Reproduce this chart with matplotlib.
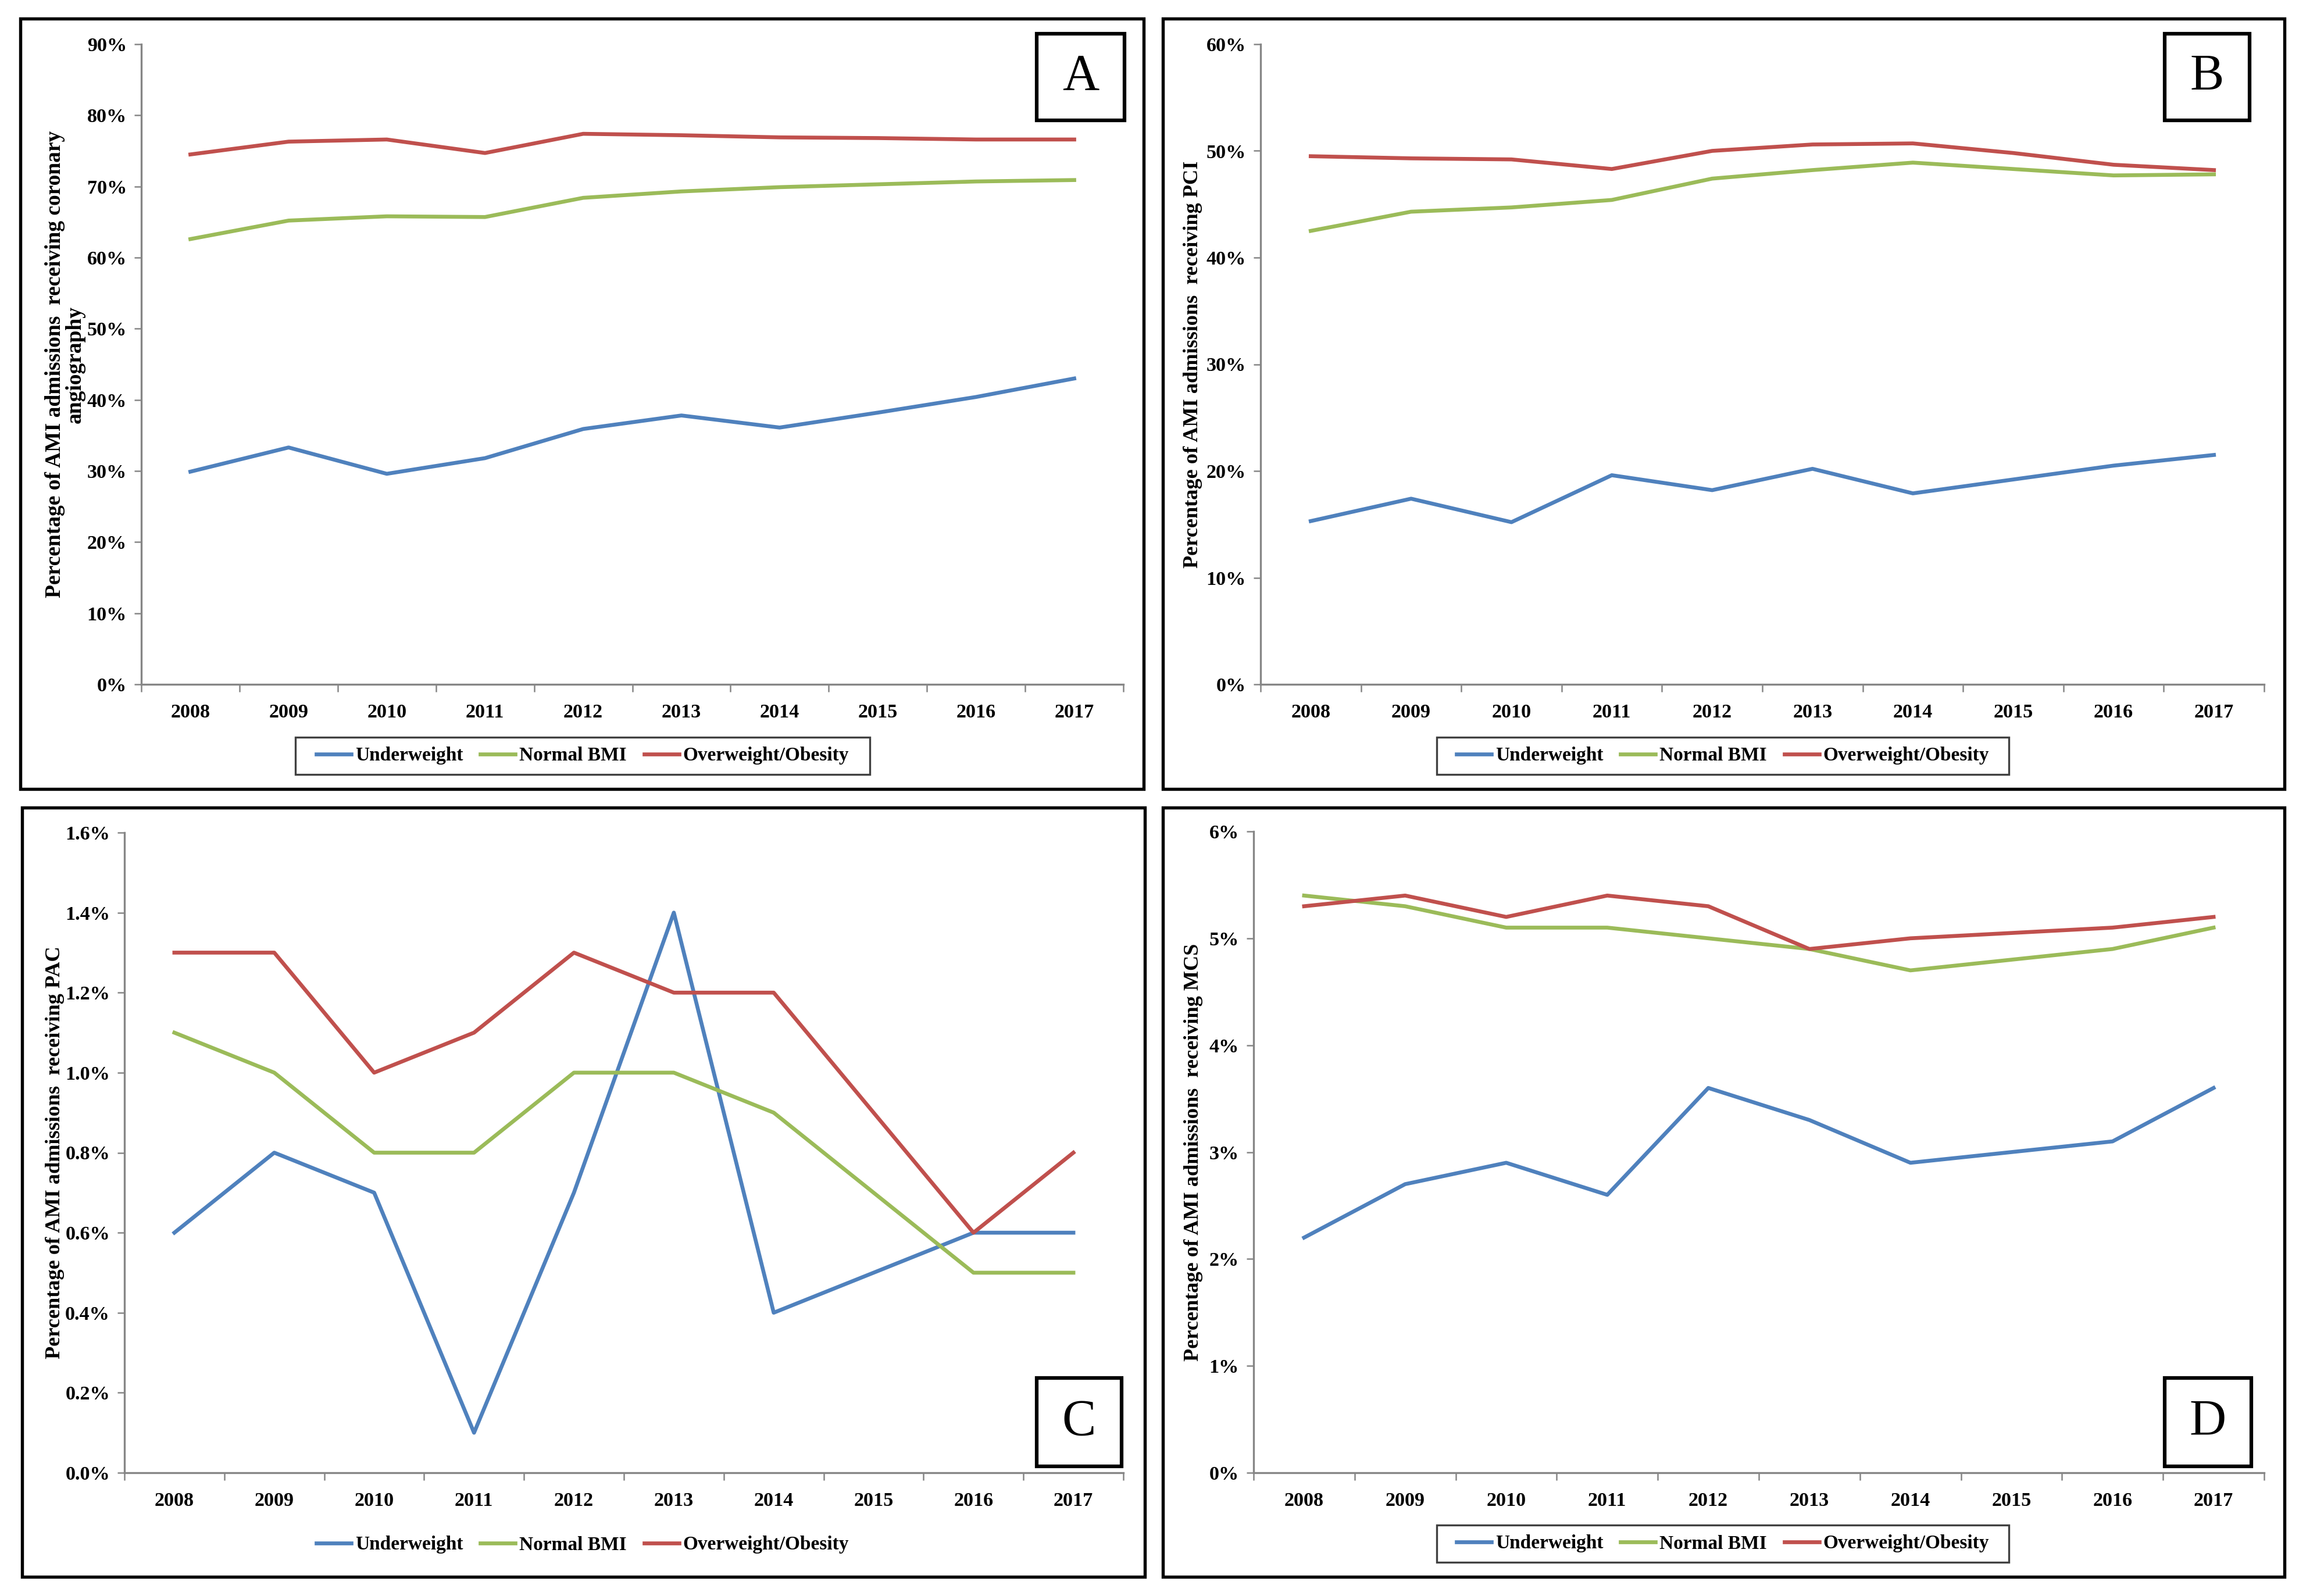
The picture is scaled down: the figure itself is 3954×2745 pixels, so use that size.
import matplotlib
matplotlib.use("Agg")
from matplotlib import pyplot as plt
from matplotlib.patches import Rectangle
from matplotlib.lines import Line2D
from matplotlib.ticker import FuncFormatter, MultipleLocator, FixedLocator

years = ["2008", "2009", "2010", "2011", "2012", "2013", "2014", "2015", "2016", "2017"]
groups = ["Underweight", "Normal BMI", "Overweight/Obesity"]
colors = ["#4F81BD", "#9BBB59", "#C0504D"]

# A - coronary angiography (%)
cag_under = [29.9, 33.3, 29.6, 31.8, 35.9, 37.8, 36.1, 38.2, 40.4, 43.0]
cag_normal = [62.6, 65.2, 65.8, 65.7, 68.4, 69.3, 69.9, 70.3, 70.7, 70.9]
cag_over = [74.5, 76.3, 76.6, 74.7, 77.4, 77.2, 76.9, 76.8, 76.6, 76.6]

# B - PCI (%)
pci_under = [15.3, 17.4, 15.2, 19.6, 18.2, 20.2, 17.9, 19.2, 20.5, 21.5]
pci_normal = [42.5, 44.3, 44.7, 45.4, 47.4, 48.2, 48.9, 48.3, 47.7, 47.8]
pci_over = [49.5, 49.3, 49.2, 48.3, 50.0, 50.6, 50.7, 49.8, 48.7, 48.2]

# C - PAC (%)
pac_under = [0.6, 0.8, 0.7, 0.1, 0.7, 1.4, 0.4, 0.5, 0.6, 0.6]
pac_normal = [1.1, 1.0, 0.8, 0.8, 1.0, 1.0, 0.9, 0.7, 0.5, 0.5]
pac_over = [1.3, 1.3, 1.0, 1.1, 1.3, 1.2, 1.2, 0.9, 0.6, 0.8]

# D - MCS (%)
mcs_under = [2.2, 2.7, 2.9, 2.6, 3.6, 3.3, 2.9, 3.0, 3.1, 3.6]
mcs_normal = [5.4, 5.3, 5.1, 5.1, 5.0, 4.9, 4.7, 4.8, 4.9, 5.1]
mcs_over = [5.3, 5.4, 5.2, 5.4, 5.3, 4.9, 5.0, 5.05, 5.1, 5.2]

W, H = 3954, 2745
FONT = "Liberation Serif"
fig = plt.figure(figsize=(W / 300, H / 300), dpi=300)


def frac(x0, y0, x1, y1):
    # pixel box (top-left origin) -> figure fraction [left, bottom, width, height]
    return [x0 / W, 1 - y1 / H, (x1 - x0) / W, (y1 - y0) / H]


def add_box(px, lw, color):
    b = frac(*px)
    fig.add_artist(Rectangle(b[:2], b[2], b[3], transform=fig.transFigure,
                             fill=False, edgecolor=color, lw=lw))
    return b


panels = [
    dict(letter="A", data=[cag_under, cag_normal, cag_over], ymax=90, step=10, fmt="%d%%",
         ylabel="Percentage of AMI admissions  receiving coronary\nangiography", labx=-0.057,
         labsize=9,
         ax=(243, 76, 1932, 1177), border=(35, 32, 1967, 1357), lbox=(1783, 58, 1934, 207),
         leg=(508, 1268, 1496, 1332), legframe=True),
    dict(letter="B", data=[pci_under, pci_normal, pci_over], ymax=60, step=10, fmt="%d%%",
         ylabel="Percentage of AMI admissions  receiving PCI", labx=-0.058, labsize=8.7,
         ax=(2168, 76, 3894, 1177), border=(2000, 32, 3929, 1357), lbox=(3723, 58, 3869, 207),
         leg=(2471, 1268, 3455, 1332), legframe=True),
    dict(letter="C", data=[pac_under, pac_normal, pac_over], ymax=1.6, step=0.2, fmt="%.1f%%",
         ylabel="Percentage of AMI admissions  receiving PAC", labx=-0.060, labsize=8.7,
         ax=(214, 1432, 1932, 2533), border=(38, 1389, 1969, 2712), lbox=(1783, 2370, 1929, 2522),
         leg=(508, 2625, 1496, 2689), legframe=False),
    dict(letter="D", data=[mcs_under, mcs_normal, mcs_over], ymax=6, step=1, fmt="%d%%",
         ylabel="Percentage of AMI admissions  receiving MCS", labx=-0.050, labsize=8.7,
         ax=(2156, 1430, 3894, 2533), border=(2000, 1389, 3929, 2712), lbox=(3723, 2370, 3872, 2522),
         leg=(2471, 2623, 3455, 2687), legframe=True),
]

x = list(range(len(years)))
tick_font = dict(family=FONT, weight="bold", size=8.2)

for p in panels:
    # outer panel frame
    add_box(p["border"], 1.3, "black")

    ax = fig.add_axes(frac(*p["ax"]))
    for vals, name, c in zip(p["data"], groups, colors):
        ax.plot(x, vals, color=c, lw=1.6, label=name)

    ax.set_xlim(-0.5, len(years) - 0.5)
    ax.set_ylim(0, p["ymax"])
    ax.yaxis.set_major_locator(MultipleLocator(p["step"]))
    fmt = p["fmt"]
    ax.yaxis.set_major_formatter(FuncFormatter(lambda v, pos, f=fmt: f % v))
    ax.set_xticks(x)
    ax.set_xticklabels(years)
    ax.xaxis.set_minor_locator(FixedLocator([i - 0.5 for i in range(len(years) + 1)]))
    ax.tick_params(axis="x", which="major", length=0, pad=8)
    ax.tick_params(axis="x", which="minor", length=3, color="#868686", width=0.6)
    ax.tick_params(axis="y", length=3, color="#868686", width=0.6, pad=3)
    for lab in ax.get_xticklabels() + ax.get_yticklabels():
        lab.set_fontproperties(tick_font)

    for s in ["top", "right"]:
        ax.spines[s].set_visible(False)
    for s in ["left", "bottom"]:
        ax.spines[s].set_color("#868686")
        ax.spines[s].set_linewidth(0.8)

    ax.set_ylabel(p["ylabel"], family=FONT, weight="bold", size=p["labsize"], linespacing=1.0)
    ax.yaxis.set_label_coords(p["labx"], 0.5)

    # legend: frame drawn separately so its size matches the original box
    lg = frac(*p["leg"])
    if p["legframe"]:
        add_box(p["leg"], 0.8, "#404040")
    handles = [Line2D([], [], color=c, lw=1.6) for c in colors]
    ax.legend(handles, groups, loc="center", bbox_to_anchor=(lg[0] + lg[2] / 2, lg[1] + lg[3] / 2),
              bbox_transform=fig.transFigure, ncol=3, frameon=False,
              borderaxespad=0, borderpad=0, handlelength=1.8, handletextpad=0.2,
              columnspacing=0.9, prop=dict(family=FONT, weight="bold", size=8))

    # panel letter box
    lb = add_box(p["lbox"], 1.5, "black")
    fig.text(lb[0] + lb[2] / 2, lb[1] + lb[3] / 2, p["letter"], ha="center", va="center",
             family=FONT, size=21)

fig.savefig("out.png", dpi=300, facecolor="white")
